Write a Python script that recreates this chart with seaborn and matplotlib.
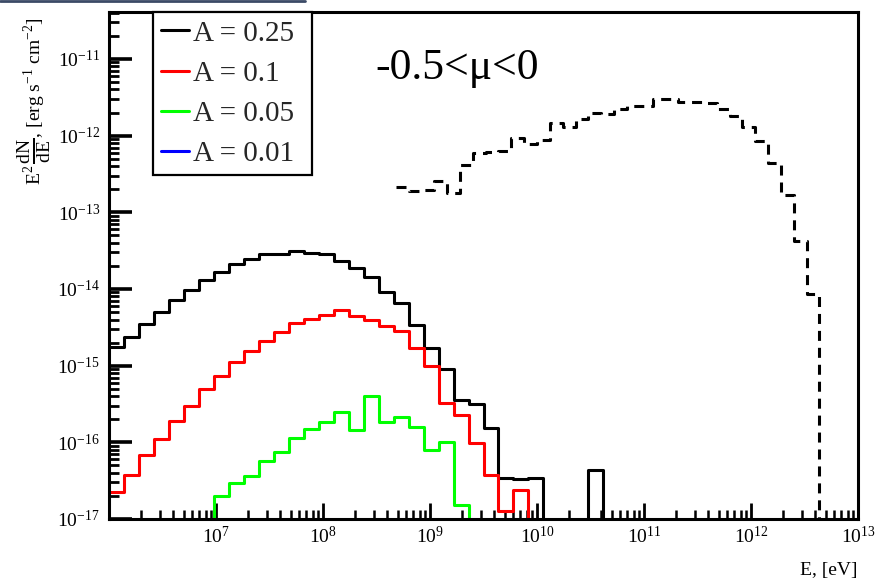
import numpy as np
import matplotlib
matplotlib.use("Agg")
import matplotlib.pyplot as plt
import seaborn as sns
from matplotlib.lines import Line2D
from matplotlib.ticker import LogLocator, NullFormatter, LogFormatterSciNotation

# ---- binning of the simulated spectra: 50 log bins from 1e6 to 1e13 eV ----
E_MIN_LOG = 6
E_MAX_LOG = 13
N_BINS = 50

# E^2 dN/dE per bin [erg s^-1 cm^-2]; 0 means an empty bin
flux_a025 = [1.74e-15, 2.34e-15, 3.47e-15, 5.0e-15, 7.2e-15, 9.8e-15, 1.32e-14, 1.66e-14,
             2.14e-14, 2.45e-14, 2.82e-14, 2.88e-14, 3.09e-14, 2.95e-14, 2.82e-14, 2.34e-14,
             1.86e-14, 1.45e-14, 9.1e-15, 6.6e-15, 3.39e-15, 1.70e-15, 9.1e-16, 3.55e-16,
             3.16e-16, 1.55e-16, 3.39e-17, 3.31e-17, 3.39e-17, 0, 0, 0,
             4.37e-17, 0, 0, 0, 0, 0, 0, 0,
             0, 0, 0, 0, 0, 0, 0, 0, 0, 0]
flux_a010 = [2.24e-17, 3.80e-17, 6.8e-17, 1.12e-16, 1.91e-16, 3.02e-16, 5.0e-16, 7.4e-16,
             1.10e-15, 1.55e-15, 2.09e-15, 2.75e-15, 3.55e-15, 4.07e-15, 4.57e-15, 5.25e-15,
             4.47e-15, 3.89e-15, 3.31e-15, 2.82e-15, 1.70e-15, 9.8e-16, 3.24e-16, 2.24e-16,
             9.8e-17, 3.72e-17, 1.26e-17, 2.40e-17, 0, 0, 0, 0,
             0, 0, 0, 0, 0, 0, 0, 0,
             0, 0, 0, 0, 0, 0, 0, 0, 0, 0]
flux_a005 = [0, 0, 0, 0, 0, 0, 0, 2.0e-17,
             2.95e-17, 3.63e-17, 5.75e-17, 7.4e-17, 1.15e-16, 1.48e-16, 1.86e-16, 2.51e-16,
             1.45e-16, 3.98e-16, 1.86e-16, 2.14e-16, 1.58e-16, 7.9e-17, 1.0e-16, 1.51e-17,
             0, 0, 0, 0, 0, 0, 0, 0,
             0, 0, 0, 0, 0, 0, 0, 0,
             0, 0, 0, 0, 0, 0, 0, 0, 0, 0]
flux_a001 = [0] * 50
series_labels = ["A = 0.25", "A = 0.1", "A = 0.05", "A = 0.01"]

# ---- reference spectrum: 0.12 dex bins counted from 1e7 eV, filled from bin 14 ----
REF_START_LOG = 7
REF_BIN_WIDTH = 0.12
REF_FIRST_BIN = 14
ref_flux = [2.15e-13, 1.91e-13, 1.95e-13, 2.55e-13, 1.76e-13, 4.12e-13, 5.86e-13, 6.04e-13,
            6.34e-13, 9.2e-13, 7.8e-13, 8.9e-13, 1.45e-12, 1.30e-12, 1.67e-12, 1.95e-12,
            1.89e-12, 2.23e-12, 2.43e-12, 2.43e-12, 2.99e-12, 2.99e-12, 2.76e-12, 2.76e-12,
            2.69e-12, 2.26e-12, 1.83e-12, 1.28e-12, 8.5e-13, 4.35e-13, 1.67e-13, 4.25e-14,
            8.6e-15]

title_text = "-0.5<\u03bc<0"
x_label = "E, [eV]"
y_label = (r"$\mathregular{E^{2}\,\genfrac{}{}{2.5}{0}{dN}{dE}}$, "
           r"[erg s$^{-1}$ cm$^{-2}$]")

# ---- style ----
sns.set_style("ticks")
plt.rcParams["font.family"] = ["Liberation Serif", "DejaVu Serif"]
plt.rcParams["mathtext.fontset"] = "custom"
plt.rcParams["mathtext.rm"] = "Liberation Serif"
plt.rcParams["mathtext.it"] = "Liberation Serif:italic"
plt.rcParams["mathtext.bf"] = "Liberation Serif:bold"
plt.rcParams["mathtext.default"] = "regular"
plt.rcParams["lines.scale_dashes"] = False

W, H = 875, 581
fig = plt.figure(figsize=(W / 100, H / 100), dpi=100)
fig.patch.set_facecolor("white")
ax_l, ax_r, ax_t, ax_b = 109, 858, 12, 519
ax = fig.add_axes([ax_l / W, 1 - ax_b / H, (ax_r - ax_l) / W, (ax_b - ax_t) / H])
ax.set_facecolor("white")

edges = np.logspace(E_MIN_LOG, E_MAX_LOG, N_BINS + 1)
colors = ["black", "#ff0000", "#00ff00", "#0000ff"]
lw = 2.2

for vals, lab, col in zip([flux_a025, flux_a010, flux_a005, flux_a001], series_labels, colors):
    sns.lineplot(x=edges, y=np.append(vals, 0.0), drawstyle="steps-post", color=col,
                 linewidth=lw, estimator=None, sort=False, ax=ax, legend=False, label=lab)

ref_edges = 10.0 ** (REF_START_LOG + REF_BIN_WIDTH * np.arange(REF_FIRST_BIN, REF_FIRST_BIN + len(ref_flux) + 1))
sns.lineplot(x=ref_edges, y=np.append(ref_flux, 0.0), drawstyle="steps-post", color="black",
             linewidth=lw, linestyle=(0, (7.2, 5.0)), estimator=None, sort=False, ax=ax, legend=False)

ax.set_xscale("log")
ax.set_yscale("log")

ax.set_xticks(10.0 ** np.arange(7, 14))
ax.xaxis.set_minor_locator(LogLocator(base=10, subs=np.arange(2, 10), numticks=100))
ax.xaxis.set_major_formatter(LogFormatterSciNotation())
ax.xaxis.set_minor_formatter(NullFormatter())
ax.set_yticks(10.0 ** np.arange(-17, -10))
ax.yaxis.set_minor_locator(LogLocator(base=10, subs=np.arange(2, 10), numticks=100))
ax.yaxis.set_major_formatter(LogFormatterSciNotation())
ax.yaxis.set_minor_formatter(NullFormatter())
ax.set_xlim(1e6, 1e13)
ax.set_ylim(1e-17, 4.1e-11)

for side in ["left", "right", "top", "bottom"]:
    ax.spines[side].set_visible(True)
    ax.spines[side].set_linewidth(2.2)
    ax.spines[side].set_color("black")

ax.tick_params(axis="both", which="both", direction="in", top=False, right=False,
               colors="black", labelsize=14)
ax.tick_params(axis="y", which="major", length=16.3, width=2.6, pad=6.5)
ax.tick_params(axis="y", which="minor", length=7.2, width=2.0)
ax.tick_params(axis="x", which="major", length=11.5, width=2.0, pad=5)
ax.tick_params(axis="x", which="minor", length=6.5, width=1.8)
ax.set_xlabel("")
ax.set_ylabel("")

# legend box in the top-left corner of the frame
handles = ax.get_lines()[:4]
leg = ax.legend(handles, series_labels, loc="upper left",
                bbox_to_anchor=((153 - ax_l) / (ax_r - ax_l), 0, (312 - 153) / (ax_r - ax_l), 1),
                mode="expand", borderaxespad=0, frameon=True, fancybox=False,
                edgecolor="black", framealpha=1, facecolor="white",
                prop={"family": "Liberation Serif", "size": 21},
                handlelength=0.95, handletextpad=0.15, labelspacing=0.47, borderpad=0.28)
leg.get_frame().set_linewidth(1.6)

ax.text((375 - ax_l) / (ax_r - ax_l), (ax_b - 79) / (ax_b - ax_t), title_text,
        transform=ax.transAxes, fontsize=31.5, ha="left", va="baseline", color="black")

fig.text(ax_r / W, 1 - 575 / H, x_label, ha="right", va="baseline", fontsize=14, color="black")
fig.text(34 / W, 1 - 17 / H, y_label, rotation=90, ha="center", va="top", fontsize=14,
         color="black")

fig.add_artist(Line2D([0, 305 / W], [1 - 1 / H, 1 - 1 / H], transform=fig.transFigure,
                      color="#3b4a66", linewidth=2))

fig.savefig("out.png", dpi=100, facecolor="white")
